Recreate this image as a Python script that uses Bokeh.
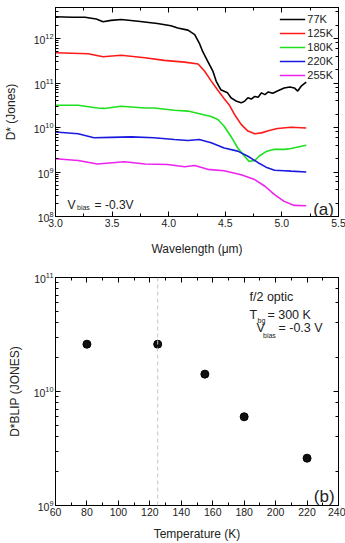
import numpy as np
from bokeh.plotting import figure
from bokeh.models import (LinearAxis, LogAxis, Legend, LegendItem, Label, Span,
                          SingleIntervalTicker, LogTicker, CustomJSTickFormatter,
                          PrintfTickFormatter)
from bokeh.layouts import column
from bokeh.embed import file_html
from bokeh.resources import INLINE

FONT = "Liberation Sans"

# ---------------- panel (a): D* vs wavelength (values read as log10 of D*) -------------
WL_77 = [3.0, 3.15, 3.26, 3.36, 3.42, 3.49, 3.58, 3.73, 3.90, 4.02, 4.08, 4.17, 4.23, 4.27,
         4.30, 4.345, 4.39, 4.42, 4.46, 4.52, 4.55, 4.60, 4.64, 4.67, 4.70, 4.73, 4.76, 4.79,
         4.82, 4.85, 4.88, 4.92, 4.96, 5.02, 5.07, 5.11, 5.14, 5.17, 5.215]
LOG_77 = [12.49, 12.48, 12.48, 12.44, 12.38, 12.41, 12.43, 12.39, 12.34, 12.29, 12.24, 12.19,
          12.09, 11.90, 11.71, 11.49, 11.27, 11.04, 10.85, 10.78, 10.67, 10.59, 10.555, 10.59,
          10.67, 10.64, 10.70, 10.68, 10.78, 10.74, 10.80, 10.77, 10.82, 10.89, 10.91, 10.89,
          10.82, 10.93, 11.02]

WL_125 = [3.0, 3.29, 3.42, 3.58, 3.79, 3.96, 4.14, 4.26, 4.316, 4.375, 4.434, 4.49, 4.537,
          4.58, 4.64, 4.70, 4.76, 4.82, 4.88, 4.96, 5.08, 5.215]
LOG_125 = [11.68, 11.66, 11.59, 11.625, 11.57, 11.51, 11.47, 11.43, 11.27, 11.05, 10.84, 10.65,
           10.50, 10.30, 10.07, 9.92, 9.86, 9.88, 9.93, 9.98, 10.005, 9.99]

WL_180 = [3.0, 3.2, 3.37, 3.43, 3.58, 3.79, 3.87, 4.05, 4.17, 4.29, 4.375, 4.434, 4.49, 4.55,
          4.61, 4.67, 4.71, 4.76, 4.80, 4.86, 4.935, 5.02, 5.08, 5.215]
LOG_180 = [10.50, 10.50, 10.44, 10.43, 10.48, 10.44, 10.44, 10.39, 10.37, 10.30, 10.25, 10.18,
           10.03, 9.80, 9.54, 9.355, 9.24, 9.26, 9.36, 9.46, 9.51, 9.51, 9.53, 9.60]

WL_220 = [3.0, 3.2, 3.34, 3.49, 3.67, 3.87, 4.05, 4.17, 4.27, 4.375, 4.49, 4.61, 4.70, 4.79,
          4.86, 4.935, 5.02, 5.08, 5.215]
LOG_220 = [9.90, 9.86, 9.77, 9.78, 9.79, 9.77, 9.73, 9.71, 9.73, 9.66, 9.54, 9.47, 9.355, 9.21,
           9.11, 9.04, 9.03, 9.02, 9.00]

WL_255 = [3.0, 3.2, 3.37, 3.61, 3.79, 3.99, 4.14, 4.23, 4.345, 4.49, 4.64, 4.76, 4.85, 4.935,
          5.02, 5.11, 5.215]
LOG_255 = [9.30, 9.26, 9.18, 9.23, 9.18, 9.17, 9.12, 9.145, 9.06, 9.03, 8.94, 8.83, 8.68, 8.49,
           8.34, 8.25, 8.24]

SERIES_LABELS = ["77K", "125K", "180K", "220K", "255K"]
SERIES_COLORS = ["#000000", "#ff1a1a", "#1ee01e", "#1a1adf", "#ee22ee"]

# ---------------- panel (b): D*BLIP vs temperature -------------
T_K = [80, 125, 155, 180, 220]
D_BLIP = [2.6e10, 2.6e10, 1.42e10, 6.0e9, 2.6e9]
DASH_T = 125

BLANK = CustomJSTickFormatter(code="return ''")


def style_axis(ax, labels=True):
    ax.axis_line_color = "black"
    ax.axis_line_width = 1
    ax.major_tick_in = 5
    ax.major_tick_out = 0
    ax.minor_tick_in = 3
    ax.minor_tick_out = 0
    ax.major_tick_line_color = "black"
    ax.minor_tick_line_color = "black"
    ax.major_label_text_font = FONT
    ax.major_label_text_font_size = "10.5px"
    ax.major_label_text_color = "#222222"
    ax.axis_label_text_font = FONT
    ax.axis_label_text_font_size = "12px"
    ax.axis_label_text_font_style = "normal"
    ax.axis_label_text_color = "#222222"
    ax.major_label_standoff = 2
    if not labels:
        ax.formatter = BLANK
        ax.major_label_standoff = 0


def lab(p, x, y, text, size, **kw):
    p.add_layout(Label(x=x, y=y, text=text, text_font=FONT, text_font_size=size,
                       text_color="#222222", text_baseline=kw.pop("text_baseline", "alphabetic"),
                       **kw))


# ================= top figure =================
p1 = figure(frame_width=283, frame_height=209, x_range=(3.0, 5.5), y_range=(1e8, 5e12),
            y_axis_type="log", output_backend="svg", toolbar_location=None,
            min_border_left=51, min_border_right=11, min_border_top=7, min_border_bottom=46)
p1.xgrid.visible = False
p1.ygrid.visible = False
p1.outline_line_color = "black"
p1.xaxis.ticker = SingleIntervalTicker(interval=0.5, num_minor_ticks=2)
p1.xaxis.formatter = PrintfTickFormatter(format="%.1f")
p1.xaxis.axis_label = "Wavelength (\u03bcm)"
p1.yaxis.axis_label = "D* (Jones)"
p1.yaxis.axis_label_standoff = 13
p1.xaxis.axis_label_standoff = 12
style_axis(p1.xaxis[0])
style_axis(p1.yaxis[0])
ax_top = LinearAxis(ticker=SingleIntervalTicker(interval=0.5, num_minor_ticks=2))
style_axis(ax_top, labels=False)
p1.add_layout(ax_top, "above")
ax_right = LogAxis(ticker=LogTicker())
style_axis(ax_right, labels=False)
p1.add_layout(ax_right, "right")

items = []
for wl, lg, name, col in zip([WL_77, WL_125, WL_180, WL_220, WL_255],
                             [LOG_77, LOG_125, LOG_180, LOG_220, LOG_255],
                             SERIES_LABELS, SERIES_COLORS):
    r = p1.line(wl, 10 ** np.array(lg), line_color=col, line_width=1.6)
    items.append(LegendItem(label=name, renderers=[r]))
leg = Legend(items=items, location="top_right")
leg.border_line_color = None
leg.background_fill_alpha = 0
leg.label_text_font = FONT
leg.label_text_font_size = "11px"
leg.label_text_color = "#222222"
leg.glyph_width = 26
leg.glyph_height = 14
leg.label_height = 14
leg.spacing = 0
leg.padding = 2
leg.margin = 5
leg.label_standoff = 2
p1.add_layout(leg)

lab(p1, 3.106, 1.86e8, "V", "12px")
lab(p1, 3.19, 1.58e8, "bias", "7px")
lab(p1, 3.345, 1.86e8, "= -0.3V", "12px")
lab(p1, 5.46, 1.42e8, "(a)", "17px", text_align="right")

# ================= bottom figure =================
p2 = figure(frame_width=283, frame_height=228, x_range=(60, 240), y_range=(1e9, 1e11),
            y_axis_type="log", output_backend="svg", toolbar_location=None,
            min_border_left=51, min_border_right=11, min_border_top=15, min_border_bottom=38)
p2.xgrid.visible = False
p2.ygrid.visible = False
p2.outline_line_color = "black"
p2.xaxis.ticker = SingleIntervalTicker(interval=20, num_minor_ticks=2)
p2.xaxis.axis_label = "Temperature (K)"
p2.xaxis.axis_label_standoff = 8
p2.yaxis.axis_label = "D*BLIP (JONES)"
p2.yaxis.axis_label_standoff = 9
style_axis(p2.xaxis[0])
style_axis(p2.yaxis[0])
ax_top2 = LinearAxis(ticker=SingleIntervalTicker(interval=20, num_minor_ticks=2))
style_axis(ax_top2, labels=False)
p2.add_layout(ax_top2, "above")
ax_right2 = LogAxis(ticker=LogTicker())
style_axis(ax_right2, labels=False)
p2.add_layout(ax_right2, "right")

p2.add_layout(Span(location=DASH_T, dimension="height", line_color="#c4c4c4",
                   line_dash="4 3", line_width=1))
p2.scatter(T_K, D_BLIP, size=8, fill_color="#111111", line_color="black", line_width=1)

lab(p2, 183.4, 6.8e10, "f/2 optic", "12.5px")
lab(p2, 183.4, 4.73e10, "T", "12.5px")
lab(p2, 188.5, 4.2e10, "bg", "7px")
lab(p2, 194.8, 4.73e10, "= 300 K", "12.5px")
lab(p2, 187.8, 3.57e10, "V", "12.5px")
lab(p2, 192.0, 3.1e10, "bias", "7px")
lab(p2, 201.8, 3.57e10, "= -0.3 V", "12.5px")
lab(p2, 237.5, 1.2e9, "(b)", "17px", text_align="right")

layout = column(p1, p2, spacing=0)
open("out.html", "w").write(file_html(layout, INLINE))
